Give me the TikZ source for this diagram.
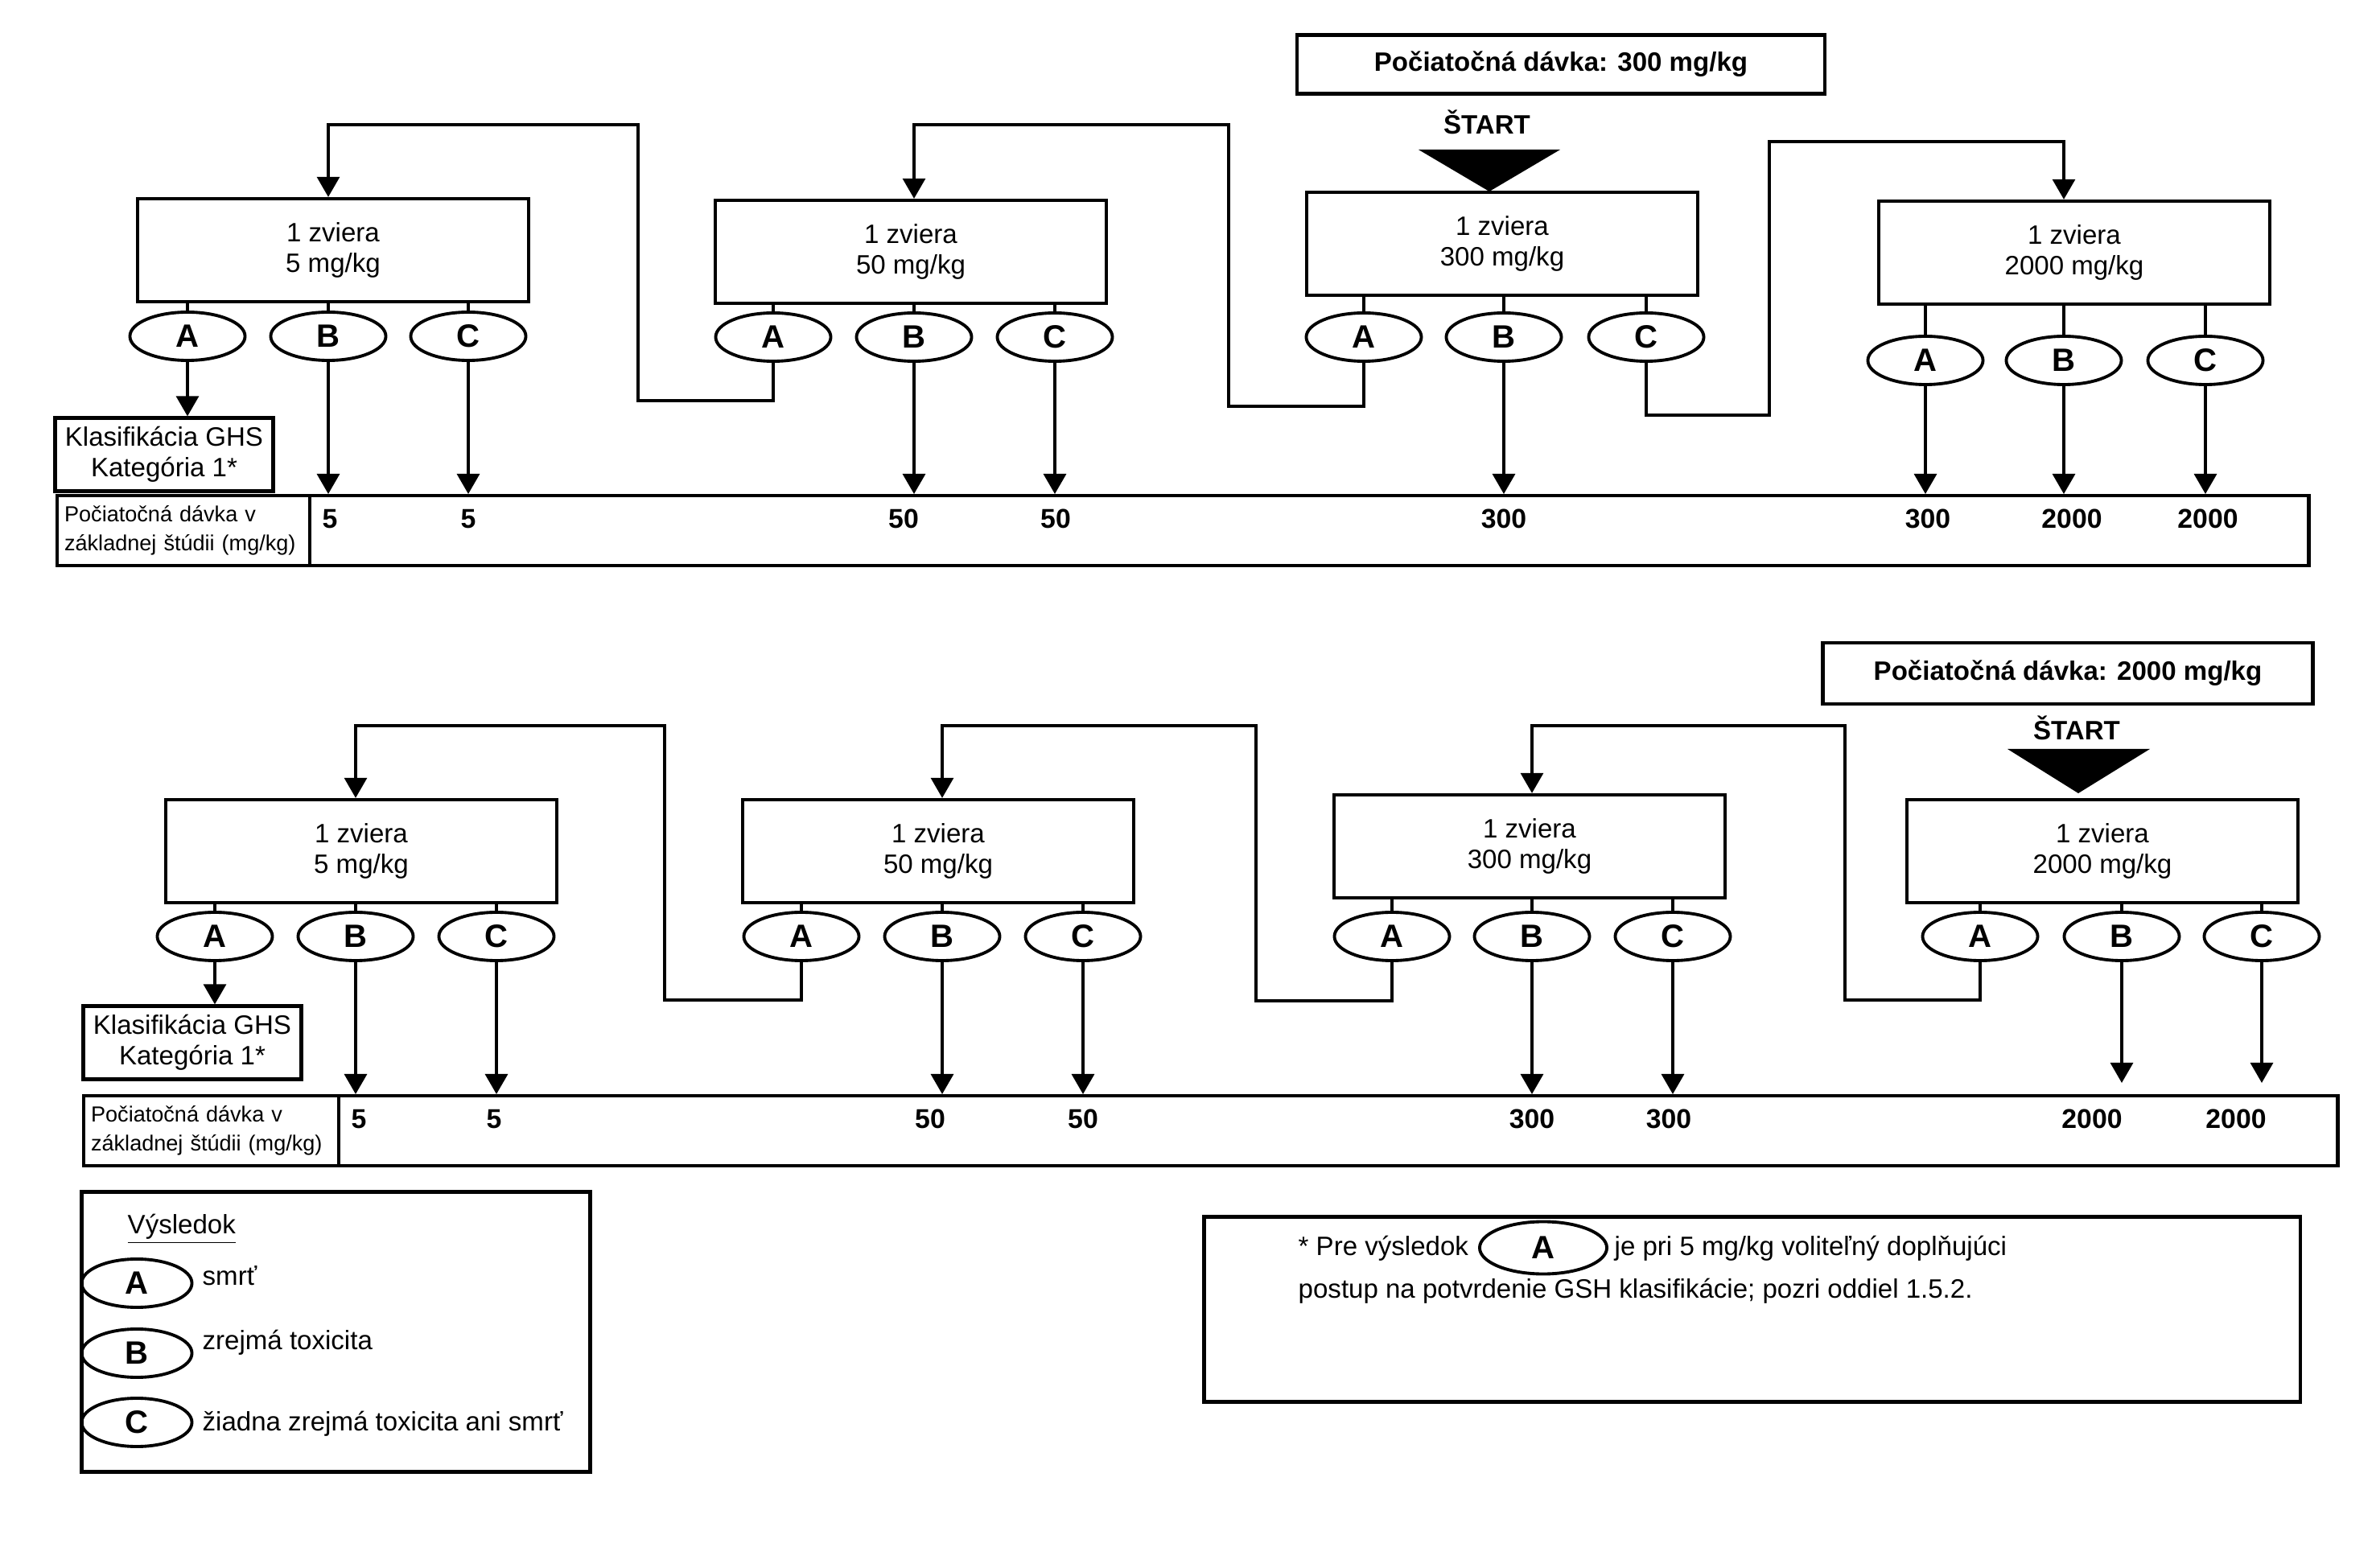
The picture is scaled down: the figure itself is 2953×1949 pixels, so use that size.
\documentclass[tikz,border=0pt]{standalone}
\usepackage{fontspec}
\setmainfont{Liberation Sans}
\usepackage{tikz}
\usetikzlibrary{shapes,arrows.meta,positioning,calc}

\begin{document}
\begin{tikzpicture}[x=0.01cm, y=-0.01cm,
    dosebox/.style={draw, line width=1.2pt, minimum width=4.85cm, minimum height=1.28cm, inner sep=0pt, align=center, font=\fontsize{9.4}{10.6}\selectfont},
    result/.style={draw, ellipse, line width=1.1pt, minimum width=1.43cm, minimum height=0.6cm, inner sep=0pt, font=\fontsize{11.4}{12}\selectfont\bfseries},
    ghsbox/.style={draw, line width=1.2pt, minimum width=2.71cm, minimum height=0.91cm, inner sep=0pt, align=center, font=\fontsize{9.4}{10.8}\selectfont},
    startbox/.style={draw, line width=1.3pt, inner sep=0pt, font=\fontsize{9.4}{11}\selectfont\bfseries},
    celllab/.style={draw, line width=1.2pt, anchor=north west, text width=2.96cm, inner xsep=0.09cm, inner ysep=0pt, minimum height=0.87cm, align=left, font=\fontsize{7.7}{10.2}\selectfont},
    cellval/.style={draw, line width=1.2pt, anchor=north west, minimum width=24.83cm, minimum height=0.87cm, inner sep=0pt},
    dose/.style={inner sep=0pt, font=\fontsize{9.6}{11}\selectfont\bfseries},
    txt/.style={inner sep=0pt, anchor=base west, font=\fontsize{9.4}{11}\selectfont},
    link/.style={line width=0.9pt},
    arr/.style={line width=0.9pt, -{Triangle[width=0.28cm,length=0.25cm]}}
  ]
    % Background
    \fill[white] (0,0) rectangle (2953,1949);
    \useasboundingbox (0,0) rectangle (2953,1949);

    % ===== Upper scheme: start at 300 mg/kg =====
    \node[startbox, minimum width=6.56cm, minimum height=0.73cm] (ustart) at (1940,80) {Počiatočná dávka: 300 mg/kg};
    \node[inner sep=0pt, font=\fontsize{9.4}{11}\selectfont\bfseries] (ustarttxt) at (1848,152) {ŠTART};
    \fill (1763,186) -- (1939,186) -- (1851,238) -- cycle;

    % Dose boxes
    \node[dosebox] (u5) at (414,311) {1 zviera\\5 mg/kg};
    \node[dosebox] (u50) at (1132,313) {1 zviera\\50 mg/kg};
    \node[dosebox] (u300) at (1867,303) {1 zviera\\300 mg/kg};
    \node[dosebox] (u2000) at (2578,314) {1 zviera\\2000 mg/kg};

    % Outcomes
    \node[result] (u5a) at (233,418) {A};
    \node[result] (u5b) at (408,418) {B};
    \node[result] (u5c) at (582,418) {C};
    \node[result] (u50a) at (961,419) {A};
    \node[result] (u50b) at (1136,419) {B};
    \node[result] (u50c) at (1311,419) {C};
    \node[result] (u300a) at (1695,419) {A};
    \node[result] (u300b) at (1869,419) {B};
    \node[result] (u300c) at (2046,419) {C};
    \node[result] (u2000a) at (2393,448) {A};
    \node[result] (u2000b) at (2565,448) {B};
    \node[result] (u2000c) at (2741,448) {C};

    \foreach \b in {5,50,300,2000}
      \foreach \r in {a,b,c}
        \draw[link] (u\b\r.north) -- (u\b\r.north |- u\b.south);

    % GHS class and table
    \node[ghsbox] (ughs) at (204,565) {Klasifikácia GHS\\Kategória 1*};
    \node[celllab] (ulab) at (69,614) {Počiatočná dávka v\\základnej štúdii (mg/kg)};
    \node[cellval] (uval) at (383,614) {};

    \node[dose] (un1) at (410,645) {5};
    \node[dose] (un2) at (582,645) {5};
    \node[dose] (un3) at (1123,645) {50};
    \node[dose] (un4) at (1312,645) {50};
    \node[dose] (un5) at (1869,645) {300};
    \node[dose] (un6) at (2396,645) {300};
    \node[dose] (un7) at (2575,645) {2000};
    \node[dose] (un8) at (2744,645) {2000};

    \draw[arr] (u5a.south) -- (u5a.south |- ughs.north);
    \foreach \n in {u5b,u5c,u50b,u50c,u300b,u2000a,u2000b,u2000c}
      \draw[arr] (\n.south) -- (\n.south |- uval.north);

    % Step-down / step-up lines
    \coordinate (uk1) at (793,498);
    \coordinate (uk2) at (793,155);
    \coordinate (uk3) at (1527,505);
    \coordinate (uk4) at (1527,155);
    \coordinate (uk5) at (2199,516);
    \coordinate (uk6) at (2199,176);
    \draw[arr] (u50a.south) |- (uk1) -- (uk2) -| (u5b.north |- u5.north);
    \draw[arr] (u300a.south) |- (uk3) -- (uk4) -| (u50b.north |- u50.north);
    \draw[arr] (u300c.south) |- (uk5) -- (uk6) -| (u2000b.north |- u2000.north);

    % ===== Lower scheme: start at 2000 mg/kg =====
    \node[startbox, minimum width=6.09cm, minimum height=0.76cm] (lstart) at (2570,837) {Počiatočná dávka: 2000 mg/kg};
    \node[inner sep=0pt, font=\fontsize{9.4}{11}\selectfont\bfseries] (lstarttxt) at (2581,905) {ŠTART};
    \fill (2495,931) -- (2672,931) -- (2583,986) -- cycle;

    % Dose boxes
    \node[dosebox] (l5) at (449,1058) {1 zviera\\5 mg/kg};
    \node[dosebox] (l50) at (1166,1058) {1 zviera\\50 mg/kg};
    \node[dosebox] (l300) at (1901,1052) {1 zviera\\300 mg/kg};
    \node[dosebox] (l2000) at (2613,1058) {1 zviera\\2000 mg/kg};

    % Outcomes
    \node[result] (l5a) at (267,1164) {A};
    \node[result] (l5b) at (442,1164) {B};
    \node[result] (l5c) at (617,1164) {C};
    \node[result] (l50a) at (996,1164) {A};
    \node[result] (l50b) at (1171,1164) {B};
    \node[result] (l50c) at (1346,1164) {C};
    \node[result] (l300a) at (1730,1164) {A};
    \node[result] (l300b) at (1904,1164) {B};
    \node[result] (l300c) at (2079,1164) {C};
    \node[result] (l2000a) at (2461,1164) {A};
    \node[result] (l2000b) at (2637,1164) {B};
    \node[result] (l2000c) at (2811,1164) {C};

    \foreach \b in {5,50,300,2000}
      \foreach \r in {a,b,c}
        \draw[link] (l\b\r.north) -- (l\b\r.north |- l\b.south);

    % GHS class and table
    \node[ghsbox] (lghs) at (239,1296) {Klasifikácia GHS\\Kategória 1*};
    \node[celllab, text width=2.99cm] (llab) at (102,1360) {Počiatočná dávka v\\základnej štúdii (mg/kg)};
    \node[cellval] (lval) at (419,1360) {};

    \node[dose] (ln1) at (446,1391) {5};
    \node[dose] (ln2) at (614,1391) {5};
    \node[dose] (ln3) at (1156,1391) {50};
    \node[dose] (ln4) at (1346,1391) {50};
    \node[dose] (ln5) at (1904,1391) {300};
    \node[dose] (ln6) at (2074,1391) {300};
    \node[dose] (ln7) at (2600,1391) {2000};
    \node[dose] (ln8) at (2779,1391) {2000};

    \draw[arr] (l5a.south) -- (l5a.south |- lghs.north);
    \foreach \n in {l5b,l5c,l50b,l50c,l300b,l300c}
      \draw[arr] (\n.south) -- (\n.south |- lval.north);
    \foreach \n in {l2000b,l2000c}
      \draw[arr, shorten >=0.14cm] (\n.south) -- (\n.south |- lval.north);

    % Step-down lines
    \coordinate (lk1) at (826,1243);
    \coordinate (lk2) at (826,902);
    \coordinate (lk3) at (1561,1244);
    \coordinate (lk4) at (1561,902);
    \coordinate (lk5) at (2293,1243);
    \coordinate (lk6) at (2293,902);
    \draw[arr] (l50a.south) |- (lk1) -- (lk2) -| (l5b.north |- l5.north);
    \draw[arr] (l300a.south) |- (lk3) -- (lk4) -| (l50b.north |- l50.north);
    \draw[arr] (l2000a.south) |- (lk5) -- (lk6) -| (l300b.north |- l300.north);

    % ===== Legend =====
    \node[draw, line width=1.3pt, anchor=north west, minimum width=6.32cm, minimum height=3.48cm, inner sep=0pt] (legend) at (99,1479) {};
    \node[txt] (legtitle) at (158,1533) {\underline{Výsledok}};
    \node[result, minimum width=1.37cm] (lega) at (170,1595) {A};
    \node[result, minimum width=1.37cm] (legb) at (170,1682) {B};
    \node[result, minimum width=1.37cm] (legc) at (170,1768) {C};
    \node[txt] (legatxt) at (251,1597) {smrť};
    \node[txt] (legbtxt) at (251,1677) {zrejmá toxicita};
    \node[txt] (legctxt) at (251,1778) {žiadna zrejmá toxicita ani smrť};

    % ===== Footnote =====
    \node[draw, line width=1.3pt, anchor=north west, minimum width=13.62cm, minimum height=2.30cm, inner sep=0pt] (note) at (1494,1510) {};
    \node[txt] (note1) at (1613,1560) {* Pre výsledok};
    \node[result, minimum width=1.58cm, minimum height=0.65cm] (notea) at (1918,1551) {A};
    \node[txt] (note2) at (2006,1560) {je pri 5 mg/kg voliteľný doplňujúci};
    \node[txt] (note3) at (1613,1613) {postup na potvrdenie GSH klasifikácie; pozri oddiel 1.5.2.};
\end{tikzpicture}
\end{document}
